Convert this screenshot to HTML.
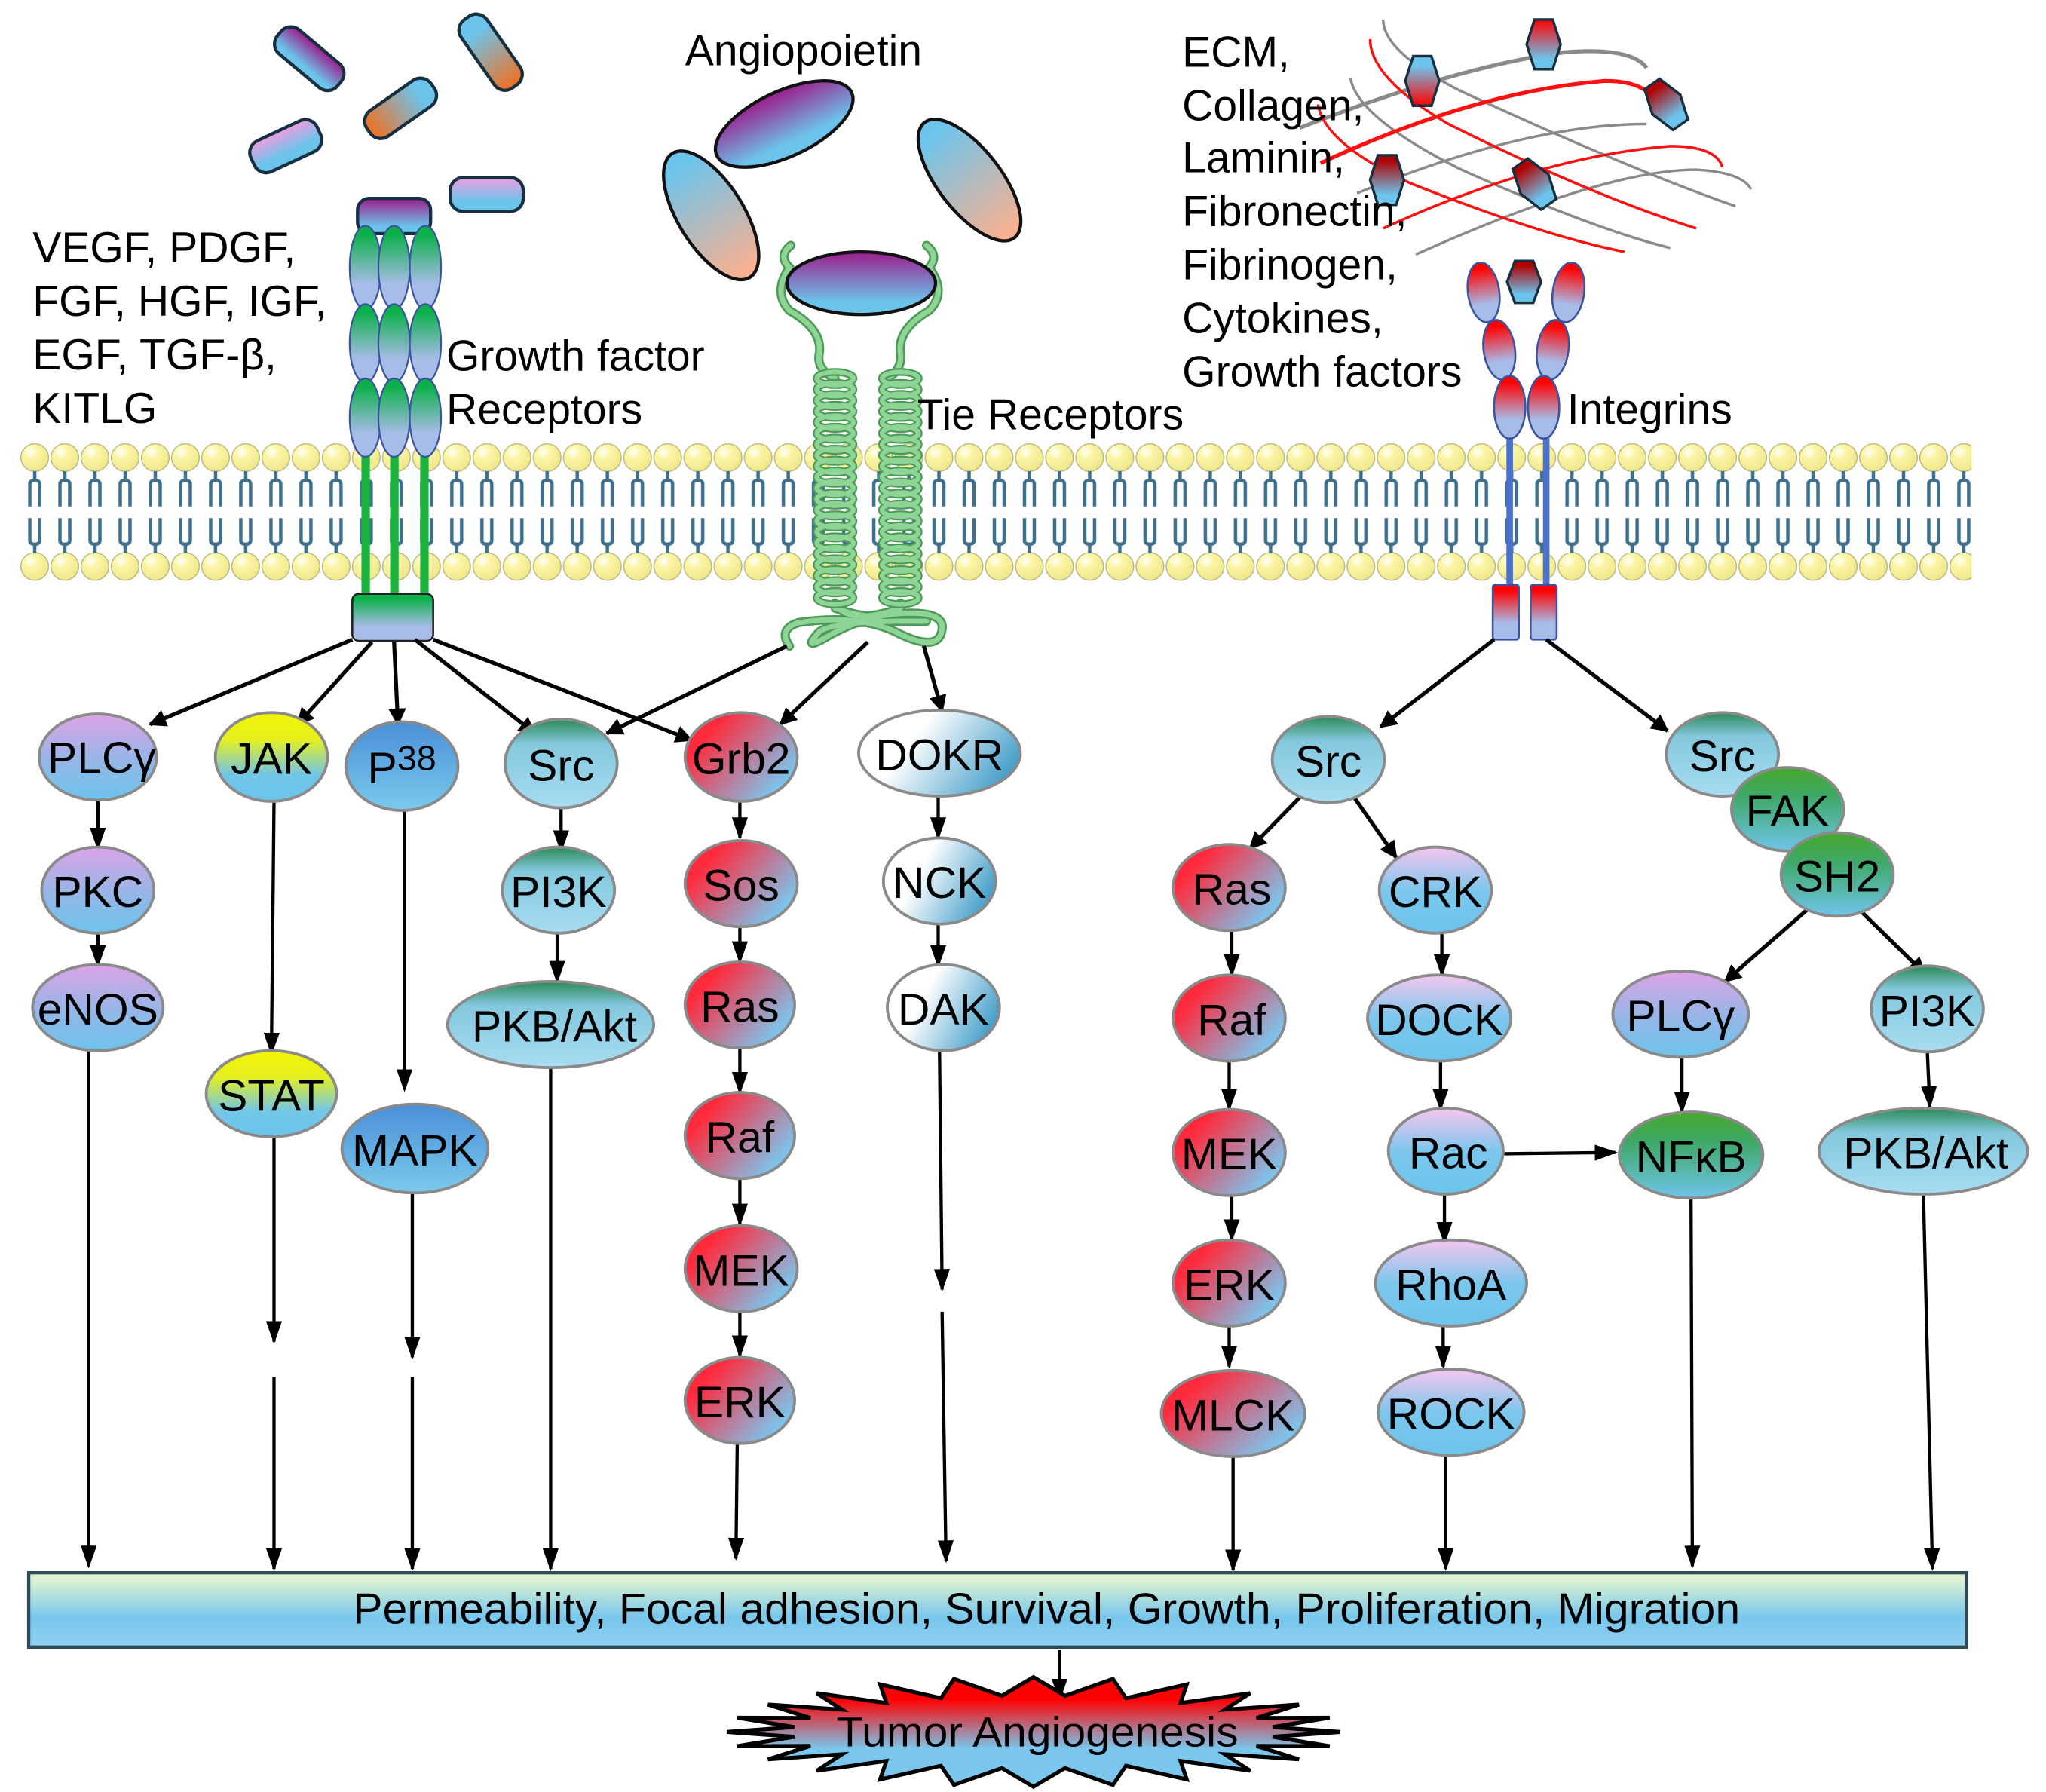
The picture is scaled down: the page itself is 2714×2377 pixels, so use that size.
<!DOCTYPE html>
<html><head><meta charset="utf-8">
<style>
html,body{margin:0;padding:0;background:#fff;}
svg{display:block;}
text{font-family:"Liberation Sans Narrow","Liberation Sans",Arial,sans-serif;fill:#000;}
.n{font-size:34px;text-anchor:middle;}
.l{font-size:33px;}
</style></head>
<body>
<svg width="2714" height="2377" viewBox="0 0 1568 1373" preserveAspectRatio="none" xmlns="http://www.w3.org/2000/svg">
<defs>
<marker id="ah" viewBox="0 0 10 10" refX="9" refY="5" markerWidth="4.5" markerHeight="4.5" orient="auto-start-reverse" markerUnits="strokeWidth">
<path d="M0,0 L10,5 L0,10 z" fill="#000"/></marker>
<marker id="ah2" viewBox="0 0 10 10" refX="9" refY="5" markerWidth="7" markerHeight="7" orient="auto" markerUnits="strokeWidth">
<path d="M0,1.5 L10,5 L0,8.5 z" fill="#000"/></marker>
<linearGradient id="gP" x1="0" y1="0" x2="0" y2="1"><stop offset="0" stop-color="#dca4e6"/><stop offset="0.55" stop-color="#94b6e6"/><stop offset="1" stop-color="#6cc4ec"/></linearGradient>
<linearGradient id="gY" x1="0" y1="0" x2="0" y2="1"><stop offset="0" stop-color="#f4f400"/><stop offset="0.3" stop-color="#e6f020"/><stop offset="0.7" stop-color="#72c6e6"/><stop offset="1" stop-color="#6cc4ec"/></linearGradient>
<linearGradient id="gB" x1="0" y1="0" x2="0" y2="1"><stop offset="0" stop-color="#4a8fd6"/><stop offset="1" stop-color="#7acaee"/></linearGradient>
<linearGradient id="gL" x1="0" y1="0" x2="0" y2="1"><stop offset="0" stop-color="#2a8a55"/><stop offset="0.28" stop-color="#84c8de"/><stop offset="1" stop-color="#a8dcf2"/></linearGradient>
<linearGradient id="gR" x1="0" y1="0.2" x2="1" y2="0.9"><stop offset="0.15" stop-color="#ff2a3c"/><stop offset="0.85" stop-color="#7ec2ea"/></linearGradient>
<linearGradient id="gW" x1="0" y1="0.3" x2="1" y2="0.7"><stop offset="0.3" stop-color="#ffffff"/><stop offset="1" stop-color="#3898c6"/></linearGradient>
<linearGradient id="gK" x1="0" y1="0" x2="0" y2="1"><stop offset="0" stop-color="#f6c6ee"/><stop offset="0.5" stop-color="#7cc6ec"/><stop offset="1" stop-color="#6cc4ec"/></linearGradient>
<linearGradient id="gG" x1="0" y1="0" x2="0" y2="1"><stop offset="0" stop-color="#46a82c"/><stop offset="0.35" stop-color="#3fa868"/><stop offset="1" stop-color="#70c4ea"/></linearGradient>
<linearGradient id="gRec" x1="0" y1="0" x2="0" y2="1"><stop offset="0.1" stop-color="#0bb04a"/><stop offset="0.7" stop-color="#a8bce8"/></linearGradient>
<linearGradient id="gInt" x1="0" y1="0" x2="0" y2="1"><stop offset="0.1" stop-color="#ff0000"/><stop offset="0.7" stop-color="#a8bce8"/></linearGradient>
<linearGradient id="gMag" x1="0" y1="0" x2="0" y2="1"><stop offset="0" stop-color="#9c1c8c"/><stop offset="0.8" stop-color="#6cc4ec"/></linearGradient>
<linearGradient id="gPk" x1="0" y1="0" x2="0" y2="1"><stop offset="0" stop-color="#f09ce0"/><stop offset="0.7" stop-color="#6cc4ec"/></linearGradient>
<linearGradient id="gOr" x1="0" y1="0" x2="1" y2="0"><stop offset="0" stop-color="#f07020"/><stop offset="0.8" stop-color="#6cc4ec"/></linearGradient>
<linearGradient id="gPe" x1="0" y1="0" x2="1" y2="0"><stop offset="0.1" stop-color="#6cc4ec"/><stop offset="0.95" stop-color="#f8b090"/></linearGradient>
<linearGradient id="gHex" x1="0" y1="0" x2="0" y2="1"><stop offset="0" stop-color="#ff0000"/><stop offset="0.8" stop-color="#6cc4ec"/></linearGradient>
<linearGradient id="gHexR" x1="0" y1="1" x2="0" y2="0"><stop offset="0" stop-color="#ff0000"/><stop offset="0.8" stop-color="#6cc4ec"/></linearGradient>
<linearGradient id="gHexD" x1="0" y1="0" x2="0" y2="1"><stop offset="0.1" stop-color="#b00000"/><stop offset="0.8" stop-color="#6cc4ec"/></linearGradient>
<linearGradient id="gBar" x1="0" y1="0" x2="0" y2="1"><stop offset="0.1" stop-color="#dcf2d2"/><stop offset="0.6" stop-color="#78c6ec"/><stop offset="1" stop-color="#8fd0f0"/></linearGradient>
<linearGradient id="gStar" x1="0" y1="0" x2="0" y2="1"><stop offset="0.2" stop-color="#ff0000"/><stop offset="0.65" stop-color="#7ac6ec"/></linearGradient>
<radialGradient id="gHead" cx="0.35" cy="0.3" r="0.7"><stop offset="0" stop-color="#ffffff"/><stop offset="0.35" stop-color="#fbf6a8"/><stop offset="1" stop-color="#efe88a"/></radialGradient>
<pattern id="mem" x="15.05" y="338" width="23.1" height="110" patternUnits="userSpaceOnUse">
<circle cx="11.55" cy="12.6" r="10.6" fill="url(#gHead)" stroke="#b8b480" stroke-width="0.8"/>
<circle cx="11.55" cy="96" r="10.6" fill="url(#gHead)" stroke="#b8b480" stroke-width="0.8"/>
<path d="M11.55,23 V30 M7.8,50 V33 Q7.8,30 11.55,30 Q15.3,30 15.3,33 V50 M7.8,59 V76 Q7.8,79 11.55,79 Q15.3,79 15.3,76 V59 M11.55,79 V86" fill="none" stroke="#3d6f8e" stroke-width="2.6"/>
</pattern>
<g id="coilcol">
<g fill="none" stroke="#4c9a58" stroke-width="6">
<ellipse cx="0" cy="290" rx="14" ry="5"/><ellipse cx="0" cy="298.4" rx="14" ry="5"/><ellipse cx="0" cy="306.8" rx="14" ry="5"/><ellipse cx="0" cy="315.2" rx="14" ry="5"/><ellipse cx="0" cy="323.6" rx="14" ry="5"/><ellipse cx="0" cy="332" rx="14" ry="5"/><ellipse cx="0" cy="340.4" rx="14" ry="5"/><ellipse cx="0" cy="348.8" rx="14" ry="5"/><ellipse cx="0" cy="357.2" rx="14" ry="5"/><ellipse cx="0" cy="365.6" rx="14" ry="5"/><ellipse cx="0" cy="374" rx="14" ry="5"/><ellipse cx="0" cy="382.4" rx="14" ry="5"/><ellipse cx="0" cy="390.8" rx="14" ry="5"/><ellipse cx="0" cy="399.2" rx="14" ry="5"/><ellipse cx="0" cy="407.6" rx="14" ry="5"/><ellipse cx="0" cy="416" rx="14" ry="5"/><ellipse cx="0" cy="424.4" rx="14" ry="5"/><ellipse cx="0" cy="432.8" rx="14" ry="5"/><ellipse cx="0" cy="441.2" rx="14" ry="5"/><ellipse cx="0" cy="449.6" rx="14" ry="5"/><ellipse cx="0" cy="458" rx="14" ry="5"/>
</g>
<g fill="none" stroke="#8ed494" stroke-width="3.5">
<ellipse cx="0" cy="290" rx="14" ry="5"/><ellipse cx="0" cy="298.4" rx="14" ry="5"/><ellipse cx="0" cy="306.8" rx="14" ry="5"/><ellipse cx="0" cy="315.2" rx="14" ry="5"/><ellipse cx="0" cy="323.6" rx="14" ry="5"/><ellipse cx="0" cy="332" rx="14" ry="5"/><ellipse cx="0" cy="340.4" rx="14" ry="5"/><ellipse cx="0" cy="348.8" rx="14" ry="5"/><ellipse cx="0" cy="357.2" rx="14" ry="5"/><ellipse cx="0" cy="365.6" rx="14" ry="5"/><ellipse cx="0" cy="374" rx="14" ry="5"/><ellipse cx="0" cy="382.4" rx="14" ry="5"/><ellipse cx="0" cy="390.8" rx="14" ry="5"/><ellipse cx="0" cy="399.2" rx="14" ry="5"/><ellipse cx="0" cy="407.6" rx="14" ry="5"/><ellipse cx="0" cy="416" rx="14" ry="5"/><ellipse cx="0" cy="424.4" rx="14" ry="5"/><ellipse cx="0" cy="432.8" rx="14" ry="5"/><ellipse cx="0" cy="441.2" rx="14" ry="5"/><ellipse cx="0" cy="449.6" rx="14" ry="5"/><ellipse cx="0" cy="458" rx="14" ry="5"/>
</g>
</g>
</defs>

<!-- membrane -->
<rect x="15" y="338" width="1496" height="110" fill="url(#mem)"/>

<!-- growth factor pills -->
<g stroke="#163040" stroke-width="2.5">
<rect x="-30" y="-12" width="60" height="24" rx="10" fill="url(#gMag)" transform="translate(237,45) rotate(40)"/>
<rect x="-32" y="-12" width="64" height="24" rx="10" fill="url(#gOr)" transform="translate(376,40) rotate(55) scale(-1,1)"/>
<rect x="-30" y="-12" width="60" height="24" rx="10" fill="url(#gOr)" transform="translate(307,83) rotate(-35)"/>
<rect x="-28" y="-13" width="56" height="26" rx="10" fill="url(#gPk)" transform="translate(219,112) rotate(-25)"/>
<rect x="345" y="136" width="56" height="26" rx="10" fill="url(#gPk)"/>
<rect x="274" y="152" width="56" height="27" rx="9" fill="url(#gMag)"/>
</g>
<!-- growth factor receptor -->
<rect x="277" y="340" width="6.5" height="118" fill="#1db33f"/>
<rect x="299" y="340" width="6.5" height="118" fill="#1db33f"/>
<rect x="322" y="340" width="6.5" height="118" fill="#1db33f"/>
<g stroke="#3a54a0" stroke-width="1.3">
<ellipse cx="280" cy="205" rx="12" ry="32" fill="url(#gRec)"/>
<ellipse cx="302" cy="205" rx="12" ry="32" fill="url(#gRec)"/>
<ellipse cx="326" cy="205" rx="12" ry="32" fill="url(#gRec)"/>
<ellipse cx="280" cy="263" rx="12" ry="30" fill="url(#gRec)"/>
<ellipse cx="302" cy="263" rx="12" ry="30" fill="url(#gRec)"/>
<ellipse cx="326" cy="263" rx="12" ry="30" fill="url(#gRec)"/>
<ellipse cx="280" cy="320" rx="12" ry="30" fill="url(#gRec)"/>
<ellipse cx="302" cy="320" rx="12" ry="30" fill="url(#gRec)"/>
<ellipse cx="326" cy="320" rx="12" ry="30" fill="url(#gRec)"/>
</g>
<rect x="270" y="455" width="62" height="36" rx="5" fill="url(#gRec)" stroke="#222" stroke-width="1.5"/>

<!-- angiopoietin -->
<g stroke="#111" stroke-width="2.5">
<ellipse cx="601" cy="95" rx="57" ry="25" fill="url(#gMag)" transform="rotate(-25 601 95)"/>
<ellipse cx="545" cy="165" rx="56" ry="25" fill="url(#gPe)" transform="rotate(58 545 165)"/>
<ellipse cx="743" cy="138" rx="56" ry="24" fill="url(#gPe)" transform="rotate(52 743 138)"/>
</g>
<!-- tie receptor -->
<g fill="none" stroke-linecap="round">
<path d="M606,188 Q596,196 605,205 Q592,224 605,238 Q630,252 628,270 Q625,283 640,290" stroke="#4c9a58" stroke-width="7"/>
<path d="M606,188 Q596,196 605,205 Q592,224 605,238 Q630,252 628,270 Q625,283 640,290" stroke="#8ed494" stroke-width="4"/>
<path d="M710,188 Q720,196 712,205 Q726,224 712,238 Q688,252 690,270 Q692,283 680,290" stroke="#4c9a58" stroke-width="7"/>
<path d="M710,188 Q720,196 712,205 Q726,224 712,238 Q688,252 690,270 Q692,283 680,290" stroke="#8ed494" stroke-width="4"/>
<path d="M640,462 Q650,480 690,466 M690,462 Q680,480 640,466 M605,495 Q596,482 612,477 Q660,470 690,486 Q720,500 722,482 Q724,468 690,470 Q660,472 630,490 Q615,498 628,484 Q640,475 710,476" stroke="#4c9a58" stroke-width="7"/>
<path d="M640,462 Q650,480 690,466 M690,462 Q680,480 640,466 M605,495 Q596,482 612,477 Q660,470 690,486 Q720,500 722,482 Q724,468 690,470 Q660,472 630,490 Q615,498 628,484 Q640,475 710,476" stroke="#8ed494" stroke-width="4"/>
</g>
<use href="#coilcol" transform="translate(640,0)"/>
<use href="#coilcol" transform="translate(690,0)"/>
<ellipse cx="660" cy="217" rx="57" ry="24" fill="url(#gMag)" stroke="#111" stroke-width="2.5"/>

<!-- ECM -->
<g fill="none" stroke-width="2">
<path d="M996,98 Q1120,50 1200,40 Q1250,36 1262,52" stroke="#8a8a8a" stroke-width="3"/>
<path d="M1040,148 Q1170,95 1262,95" stroke="#8a8a8a"/>
<path d="M1085,195 Q1230,130 1300,130 Q1335,132 1342,145" stroke="#8a8a8a"/>
<path d="M1060,15 Q1060,40 1120,70 Q1250,130 1330,158" stroke="#8a8a8a"/>
<path d="M1035,60 Q1040,90 1120,130 Q1220,175 1280,190" stroke="#8a8a8a"/>
<path d="M1012,125 Q1130,70 1230,62 Q1262,62 1270,80" stroke="#ff1010" stroke-width="3"/>
<path d="M1060,175 Q1180,120 1280,112 Q1315,112 1320,128" stroke="#ff1010"/>
<path d="M1050,30 Q1050,60 1110,95 Q1220,150 1300,175" stroke="#ff1010"/>
<path d="M1010,80 Q1015,110 1080,140 Q1180,180 1245,193" stroke="#ff1010"/>
</g>
<g stroke="#163040" stroke-width="2">
<polygon points="-7,-19 7,-19 13,0 7,19 -7,19 -13,0" fill="url(#gHex)" transform="translate(1183,34)"/>
<polygon points="-7,-19 7,-19 13,0 7,19 -7,19 -13,0" fill="url(#gHexR)" transform="translate(1090,62)"/>
<polygon points="-7,-19 7,-19 13,0 7,19 -7,19 -13,0" fill="url(#gHexD)" transform="translate(1277,80) rotate(-35)"/>
<polygon points="-7,-19 7,-19 13,0 7,19 -7,19 -13,0" fill="url(#gHexD)" transform="translate(1063,138)"/>
<polygon points="-7,-19 7,-19 13,0 7,19 -7,19 -13,0" fill="url(#gHexD)" transform="translate(1176,141) rotate(-35)"/>
<polygon points="-7,-16 7,-16 13,0 7,16 -7,16 -13,0" fill="url(#gHexD)" transform="translate(1168,216)"/>
</g>
<!-- integrins -->
<rect x="1154.5" y="330" width="5" height="122" fill="#4a70c8"/>
<rect x="1182.5" y="330" width="5" height="122" fill="#4a70c8"/>
<g stroke="#3a54a0" stroke-width="1.5">
<ellipse cx="1137" cy="224" rx="12" ry="23" fill="url(#gInt)" transform="rotate(-8 1137 224)"/>
<ellipse cx="1202" cy="224" rx="12" ry="23" fill="url(#gInt)" transform="rotate(8 1202 224)"/>
<ellipse cx="1149" cy="268" rx="12" ry="23" fill="url(#gInt)" transform="rotate(-8 1149 268)"/>
<ellipse cx="1190" cy="268" rx="12" ry="23" fill="url(#gInt)" transform="rotate(8 1190 268)"/>
<ellipse cx="1157" cy="312" rx="12" ry="24" fill="url(#gInt)"/>
<ellipse cx="1183" cy="312" rx="12" ry="24" fill="url(#gInt)"/>
<rect x="1144" y="448" width="20" height="42" rx="2" fill="url(#gInt)"/>
<rect x="1173" y="448" width="20" height="42" rx="2" fill="url(#gInt)"/>
</g>

<!-- top labels -->
<text class="l" x="25" y="201">VEGF, PDGF,</text>
<text class="l" x="25" y="242">FGF, HGF, IGF,</text>
<text class="l" x="25" y="283">EGF, TGF-β,</text>
<text class="l" x="25" y="324">KITLG</text>
<text class="l" x="342" y="284">Growth factor</text>
<text class="l" x="342" y="325">Receptors</text>
<text class="l" x="525" y="50">Angiopoietin</text>
<text class="l" x="703" y="329">Tie Receptors</text>
<text class="l" x="906" y="51">ECM,</text>
<text class="l" x="906" y="92">Collagen,</text>
<text class="l" x="906" y="132">Laminin,</text>
<text class="l" x="906" y="173">Fibronectin,</text>
<text class="l" x="906" y="214">Fibrinogen,</text>
<text class="l" x="906" y="255">Cytokines,</text>
<text class="l" x="906" y="296">Growth factors</text>
<text class="l" x="1201" y="325">Integrins</text>

<!-- connectors -->
<g stroke="#000" stroke-width="3" fill="none" marker-end="url(#ah)">
<line x1="270" y1="490" x2="115" y2="555"/>
<line x1="285" y1="492" x2="228" y2="555"/>
<line x1="302" y1="492" x2="305" y2="555"/>
<line x1="318" y1="490" x2="410" y2="562"/>
<line x1="332" y1="490" x2="530" y2="567"/>
<line x1="603" y1="495" x2="465" y2="562"/>
<line x1="665" y1="492" x2="598" y2="555"/>
<line x1="708" y1="495" x2="722" y2="545"/>
<line x1="1145" y1="490" x2="1058" y2="557"/>
<line x1="1185" y1="490" x2="1278" y2="560"/>
<line x1="1000" y1="607" x2="958" y2="650"/>
<line x1="1035" y1="607" x2="1070" y2="657"/>
<line x1="1385" y1="697" x2="1322" y2="752"/>
<line x1="1425" y1="697" x2="1475" y2="746"/>
</g>
<g stroke="#000" stroke-width="2.5" fill="none" marker-end="url(#ah2)">
<line x1="75" y1="613" x2="75" y2="650"/>
<line x1="75" y1="713" x2="75" y2="740"/>
<line x1="68" y1="805" x2="68" y2="1200"/>
<line x1="210" y1="615" x2="208" y2="807"/>
<line x1="210" y1="870" x2="210" y2="1028"/>
<line x1="210" y1="1055" x2="210" y2="1202"/>
<line x1="310" y1="617" x2="310" y2="835"/>
<line x1="316" y1="912" x2="316" y2="1040"/>
<line x1="316" y1="1055" x2="316" y2="1202"/>
<line x1="430" y1="617" x2="430" y2="652"/>
<line x1="427" y1="714" x2="427" y2="752"/>
<line x1="422" y1="816" x2="422" y2="1202"/>
<line x1="567" y1="612" x2="567" y2="642"/>
<line x1="567" y1="709" x2="567" y2="737"/>
<line x1="567" y1="802" x2="567" y2="837"/>
<line x1="567" y1="902" x2="567" y2="938"/>
<line x1="567" y1="1004" x2="567" y2="1039"/>
<line x1="565" y1="1105" x2="564" y2="1194"/>
<line x1="719" y1="610" x2="719" y2="642"/>
<line x1="719" y1="707" x2="719" y2="740"/>
<line x1="720" y1="805" x2="722" y2="988"/>
<line x1="722" y1="1005" x2="725" y2="1196"/>
<line x1="944" y1="712" x2="944" y2="747"/>
<line x1="942" y1="812" x2="942" y2="850"/>
<line x1="944" y1="915" x2="944" y2="950"/>
<line x1="942" y1="1015" x2="942" y2="1047"/>
<line x1="945" y1="1115" x2="945" y2="1203"/>
<line x1="1105" y1="714" x2="1105" y2="747"/>
<line x1="1104" y1="812" x2="1104" y2="850"/>
<line x1="1107" y1="914" x2="1107" y2="952"/>
<line x1="1106" y1="1015" x2="1106" y2="1047"/>
<line x1="1108" y1="1112" x2="1108" y2="1202"/>
<line x1="1152" y1="884" x2="1238" y2="883"/>
<line x1="1289" y1="809" x2="1289" y2="852"/>
<line x1="1296" y1="918" x2="1297" y2="1200"/>
<line x1="1477" y1="805" x2="1479" y2="848"/>
<line x1="1474" y1="912" x2="1481" y2="1202"/>
<line x1="812" y1="1264" x2="812" y2="1302"/>
</g>

<!-- nodes -->
<g stroke="#8a8a8a" stroke-width="2.2">
<ellipse cx="75" cy="580" rx="45" ry="33" fill="url(#gP)"/>
<ellipse cx="208" cy="580" rx="43" ry="34" fill="url(#gY)"/>
<ellipse cx="308" cy="587" rx="43" ry="34" fill="url(#gB)"/>
<ellipse cx="430" cy="585" rx="43" ry="34" fill="url(#gL)"/>
<ellipse cx="568" cy="580" rx="43" ry="34" fill="url(#gR)"/>
<ellipse cx="720" cy="577" rx="62" ry="33" fill="url(#gW)"/>
<ellipse cx="75" cy="682" rx="43" ry="33" fill="url(#gP)"/>
<ellipse cx="75" cy="772" rx="50" ry="33" fill="url(#gP)"/>
<ellipse cx="208" cy="838" rx="50" ry="33" fill="url(#gY)"/>
<ellipse cx="318" cy="880" rx="56" ry="34" fill="url(#gB)"/>
<ellipse cx="428" cy="682" rx="43" ry="33" fill="url(#gL)"/>
<ellipse cx="422" cy="785" rx="79" ry="33" fill="url(#gL)"/>
<ellipse cx="568" cy="677" rx="43" ry="33" fill="url(#gR)"/>
<ellipse cx="567" cy="770" rx="42" ry="33" fill="url(#gR)"/>
<ellipse cx="567" cy="870" rx="42" ry="33" fill="url(#gR)"/>
<ellipse cx="568" cy="972" rx="43" ry="33" fill="url(#gR)"/>
<ellipse cx="567" cy="1073" rx="42" ry="33" fill="url(#gR)"/>
<ellipse cx="720" cy="675" rx="43" ry="33" fill="url(#gW)"/>
<ellipse cx="723" cy="772" rx="43" ry="33" fill="url(#gW)"/>
<ellipse cx="1018" cy="582" rx="43" ry="33" fill="url(#gL)"/>
<ellipse cx="942" cy="680" rx="43" ry="33" fill="url(#gR)"/>
<ellipse cx="1100" cy="682" rx="43" ry="33" fill="url(#gK)"/>
<ellipse cx="942" cy="780" rx="43" ry="33" fill="url(#gR)"/>
<ellipse cx="1103" cy="780" rx="55" ry="33" fill="url(#gK)"/>
<ellipse cx="942" cy="883" rx="43" ry="33" fill="url(#gR)"/>
<ellipse cx="1108" cy="882" rx="44" ry="33" fill="url(#gK)"/>
<ellipse cx="942" cy="983" rx="43" ry="33" fill="url(#gR)"/>
<ellipse cx="1112" cy="983" rx="58" ry="33" fill="url(#gK)"/>
<ellipse cx="945" cy="1083" rx="55" ry="33" fill="url(#gR)"/>
<ellipse cx="1112" cy="1082" rx="56" ry="33" fill="url(#gK)"/>
<ellipse cx="1320" cy="578" rx="43" ry="32" fill="url(#gL)"/>
<ellipse cx="1370" cy="620" rx="43" ry="32" fill="url(#gG)"/>
<ellipse cx="1408" cy="670" rx="43" ry="32" fill="url(#gG)"/>
<ellipse cx="1288" cy="777" rx="52" ry="33" fill="url(#gP)"/>
<ellipse cx="1477" cy="773" rx="43" ry="33" fill="url(#gL)"/>
<ellipse cx="1296" cy="885" rx="55" ry="33" fill="url(#gG)"/>
<ellipse cx="1474" cy="882" rx="80" ry="33" fill="url(#gL)"/>
</g>
<g>
<text class="n" x="78" y="592">PLCγ</text>
<text class="n" x="208" y="593">JAK</text>
<text class="n" x="308" y="600">P<tspan font-size="27" dy="-10">38</tspan></text>
<text class="n" x="430" y="598">Src</text>
<text class="n" x="568" y="593">Grb2</text>
<text class="n" x="720" y="590">DOKR</text>
<text class="n" x="75" y="695">PKC</text>
<text class="n" x="75" y="785">eNOS</text>
<text class="n" x="208" y="851">STAT</text>
<text class="n" x="318" y="893">MAPK</text>
<text class="n" x="428" y="695">PI3K</text>
<text class="n" x="425" y="798">PKB/Akt</text>
<text class="n" x="568" y="690">Sos</text>
<text class="n" x="567" y="783">Ras</text>
<text class="n" x="567" y="883">Raf</text>
<text class="n" x="568" y="985">MEK</text>
<text class="n" x="567" y="1086">ERK</text>
<text class="n" x="720" y="688">NCK</text>
<text class="n" x="723" y="785">DAK</text>
<text class="n" x="1018" y="595">Src</text>
<text class="n" x="944" y="693">Ras</text>
<text class="n" x="1100" y="695">CRK</text>
<text class="n" x="944" y="793">Raf</text>
<text class="n" x="1103" y="793">DOCK</text>
<text class="n" x="942" y="896">MEK</text>
<text class="n" x="1110" y="895">Rac</text>
<text class="n" x="942" y="996">ERK</text>
<text class="n" x="1112" y="996">RhoA</text>
<text class="n" x="945" y="1096">MLCK</text>
<text class="n" x="1112" y="1095">ROCK</text>
<text class="n" x="1320" y="591">Src</text>
<text class="n" x="1370" y="633">FAK</text>
<text class="n" x="1408" y="683">SH2</text>
<text class="n" x="1288" y="790">PLCγ</text>
<text class="n" x="1477" y="786">PI3K</text>
<text class="n" x="1296" y="898">NFκB</text>
<text class="n" x="1476" y="895">PKB/Akt</text>
</g>

<!-- outcome bar -->
<rect x="22" y="1205" width="1485" height="57" fill="url(#gBar)" stroke="#2e4a58" stroke-width="2.5"/>
<text x="802" y="1244" font-size="33" text-anchor="middle" textLength="1063" lengthAdjust="spacingAndGlyphs">Permeability, Focal adhesion, Survival, Growth, Proliferation, Migration</text>

<!-- starburst -->
<polygon fill="url(#gStar)" stroke="#000" stroke-width="3" points="1027,1327 975.3,1330.7 1019,1337.9 962.9,1337.7 995.5,1348 938.7,1344.1 958.1,1356.7 904.7,1349.2 909.5,1363.4 862.9,1352.9 852.9,1367.6 816.2,1354.7 792,1369 767.8,1354.7 731.1,1367.6 721.1,1352.9 674.5,1363.4 679.3,1349.2 625.9,1356.7 645.3,1344.1 588.5,1348 621.1,1337.7 565,1337.9 608.7,1330.7 557,1327 608.7,1323.3 565,1316.1 621.1,1316.3 588.5,1306 645.3,1309.9 625.9,1297.3 679.3,1304.8 674.5,1290.6 721.1,1301.1 731.1,1286.4 767.8,1299.3 792,1285 816.2,1299.3 852.9,1286.4 862.9,1301.1 909.5,1290.6 904.7,1304.8 958.1,1297.3 938.7,1309.9 995.5,1306 962.9,1316.3 1019,1316.1 975.3,1323.3"/>
<text x="795" y="1338" font-size="32" text-anchor="middle" textLength="308" lengthAdjust="spacingAndGlyphs">Tumor Angiogenesis</text>
</svg>
</body></html>
